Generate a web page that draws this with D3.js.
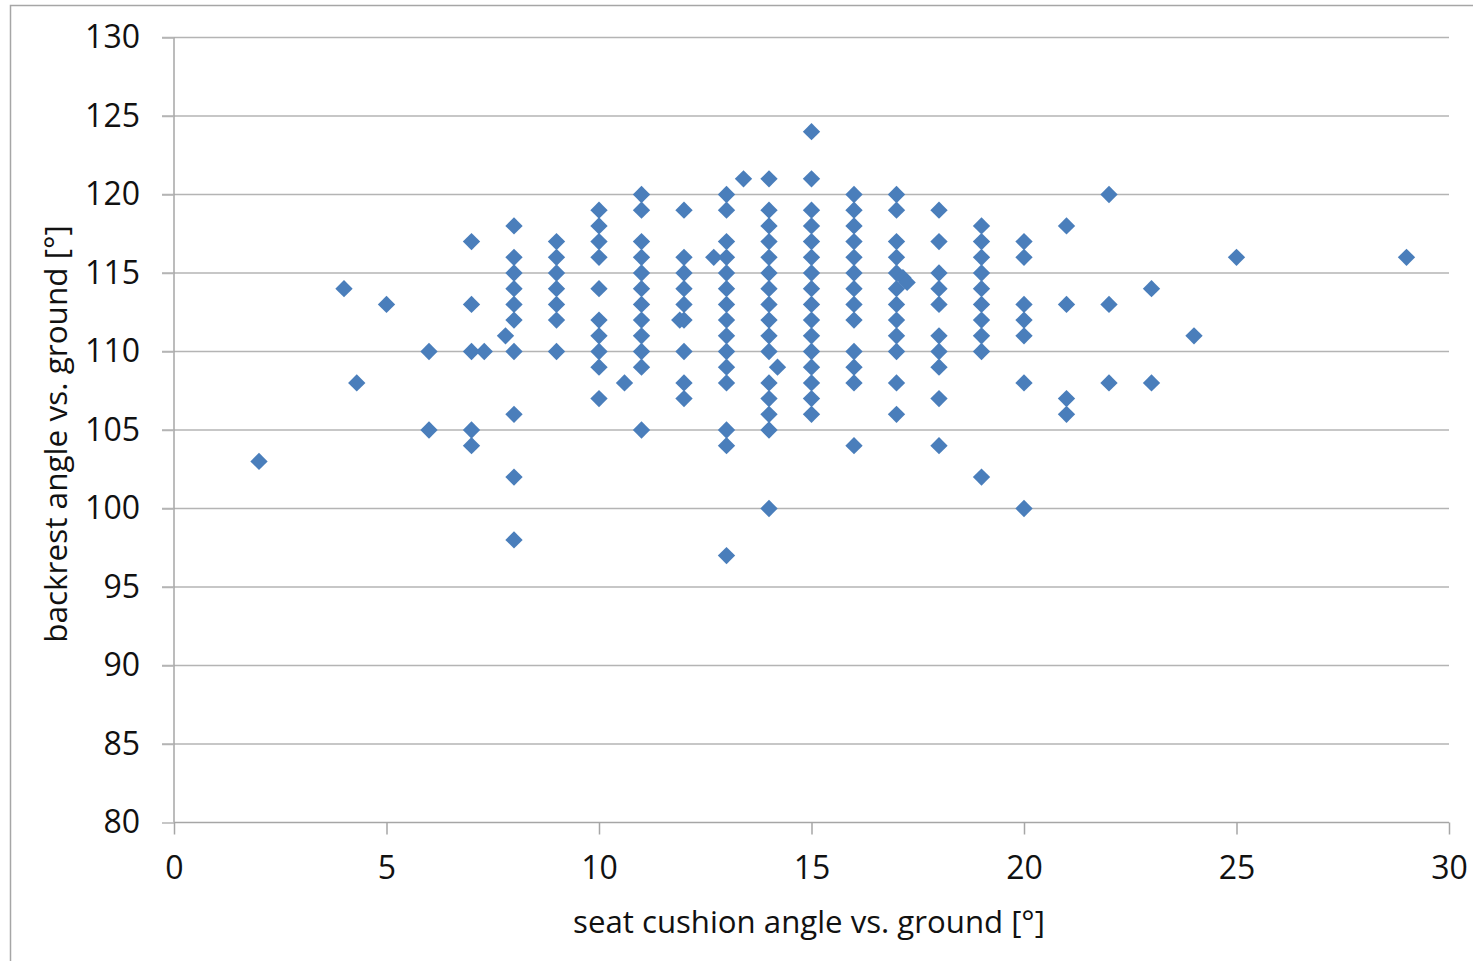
<!DOCTYPE html>
<html>
<head>
<meta charset="utf-8">
<script src="https://cdn.jsdelivr.net/npm/d3@7"></script>
<style>
  html, body { margin: 0; padding: 0; background: #fff; }
  svg { display: block; }
  text { font-family: "Open Sans", "Noto Sans", sans-serif; fill: #111; }
</style>
</head>
<body>
<div id="chart"></div>
<script>
// seat cushion angle (x) -> backrest angles (y), one entry per column
const observations = [
  [2, [103]],
  [4, [114]],
  [4.3, [108]],
  [5, [113]],
  [6, [110, 105]],
  [7, [117, 113, 110, 105, 104]],
  [7.3, [110]],
  [7.8, [111]],
  [8, [118, 116, 115, 114, 113, 112, 110, 106, 102, 98]],
  [9, [117, 116, 115, 114, 113, 112, 110]],
  [10, [119, 118, 117, 116, 114, 112, 111, 110, 109, 107]],
  [10.6, [108]],
  [11, [120, 119, 117, 116, 115, 114, 113, 112, 111, 110, 109, 105]],
  [11.9, [112]],
  [12, [119, 116, 115, 114, 113, 112, 110, 108, 107]],
  [12.7, [116]],
  [13, [120, 119, 117, 116, 115, 114, 113, 112, 111, 110, 109, 108, 105, 104, 97]],
  [13.4, [121]],
  [14, [121, 119, 118, 117, 116, 115, 114, 113, 112, 111, 110, 108, 107, 106, 105, 100]],
  [14.2, [109]],
  [15, [124, 121, 119, 118, 117, 116, 115, 114, 113, 112, 111, 110, 109, 108, 107, 106]],
  [16, [120, 119, 118, 117, 116, 115, 114, 113, 112, 110, 109, 108, 104]],
  [17, [120, 119, 117, 116, 115, 114, 113, 112, 111, 110, 108, 106]],
  [17.15, [114.7]],
  [17.25, [114.4]],
  [18, [119, 117, 115, 114, 113, 111, 110, 109, 107, 104]],
  [19, [118, 117, 116, 115, 114, 113, 112, 111, 110, 102]],
  [20, [117, 116, 113, 112, 111, 108, 100]],
  [21, [118, 113, 107, 106]],
  [22, [120, 113, 108]],
  [23, [114, 108]],
  [24, [111]],
  [25, [116]],
  [29, [116]]
];

const xTicks = [0, 5, 10, 15, 20, 25, 30];
const yTicks = [80, 85, 90, 95, 100, 105, 110, 115, 120, 125, 130];

const xLabel = 'seat cushion angle vs. ground [°]';
const yLabel = 'backrest angle vs. ground [°]';

const width = 1473;
const height = 961;
const margin = { left: 174, right: 24, top: 37.5, bottom: 138.5 };
const innerW = width - margin.left - margin.right;
const innerH = height - margin.top - margin.bottom;

const points = observations.flatMap(([x, ys]) => ys.map((y) => ({ x, y })));

const svg = d3
  .select('#chart')
  .append('svg')
  .attr('width', width)
  .attr('height', height);

// outer chart frame (right/bottom edges fall outside the picture)
svg
  .append('rect')
  .attr('x', 10.5)
  .attr('y', 5.5)
  .attr('width', width + 20)
  .attr('height', height + 20)
  .attr('fill', 'none')
  .attr('stroke', '#a6a6a6')
  .attr('stroke-width', 1.5);

const g = svg
  .append('g')
  .attr('transform', `translate(${margin.left},${margin.top})`);

const x = d3.scaleLinear().domain([0, 30]).range([0, innerW]);
const y = d3.scaleLinear().domain([80, 130]).range([innerH, 0]);

// horizontal grid
g.append('g')
  .selectAll('line')
  .data(yTicks.filter((d) => d !== 80))
  .join('line')
  .attr('x1', -12)
  .attr('x2', innerW)
  .attr('y1', (d) => y(d))
  .attr('y2', (d) => y(d))
  .attr('stroke', '#b4b4b4')
  .attr('stroke-width', 1.5);

// y axis
const yAxis = g
  .append('g')
  .call(d3.axisLeft(y).tickValues(yTicks).tickSize(12).tickPadding(22));
yAxis
  .select('.domain')
  .attr('d', `M0,${innerH}V0`)
  .attr('stroke', '#a6a6a6')
  .attr('stroke-width', 1.5);
yAxis.selectAll('.tick line').attr('stroke', '#b4b4b4').attr('stroke-width', 1.5);
yAxis
  .selectAll('.tick text')
  .attr('font-size', 32)
  .attr('font-family', '"Open Sans", sans-serif')
  .attr('fill', '#111');

// x axis
const xAxis = g
  .append('g')
  .attr('transform', `translate(0,${innerH})`)
  .call(d3.axisBottom(x).tickValues(xTicks).tickSize(12).tickPadding(22));
xAxis
  .select('.domain')
  .attr('d', `M0,0H${innerW}`)
  .attr('stroke', '#a6a6a6')
  .attr('stroke-width', 1.5);
xAxis.selectAll('.tick line').attr('stroke', '#a6a6a6').attr('stroke-width', 1.5);
xAxis
  .selectAll('.tick text')
  .attr('font-size', 32)
  .attr('font-family', '"Open Sans", sans-serif')
  .attr('fill', '#111');

// markers
const diamond = d3.symbol().type(d3.symbolSquare).size(150);
g.append('g')
  .selectAll('path')
  .data(points)
  .join('path')
  .attr('d', diamond)
  .attr('transform', (d) => `translate(${x(d.x)},${y(d.y)}) rotate(45)`)
  .attr('fill', '#4a7ebb');

// axis titles, sized to the reference widths
function fitText(sel, target) {
  sel.attr('font-size', 30);
  const len = sel.node().getComputedTextLength();
  sel.attr('font-size', (30 * target) / len);
}

const xt = svg
  .append('text')
  .attr('x', 809)
  .attr('y', 933)
  .attr('text-anchor', 'middle')
  .text(xLabel);
fitText(xt, 472);

const yt = svg
  .append('text')
  .attr('transform', 'translate(67,434) rotate(-90)')
  .attr('text-anchor', 'middle')
  .text(yLabel);
fitText(yt, 418);
</script>
</body>
</html>
